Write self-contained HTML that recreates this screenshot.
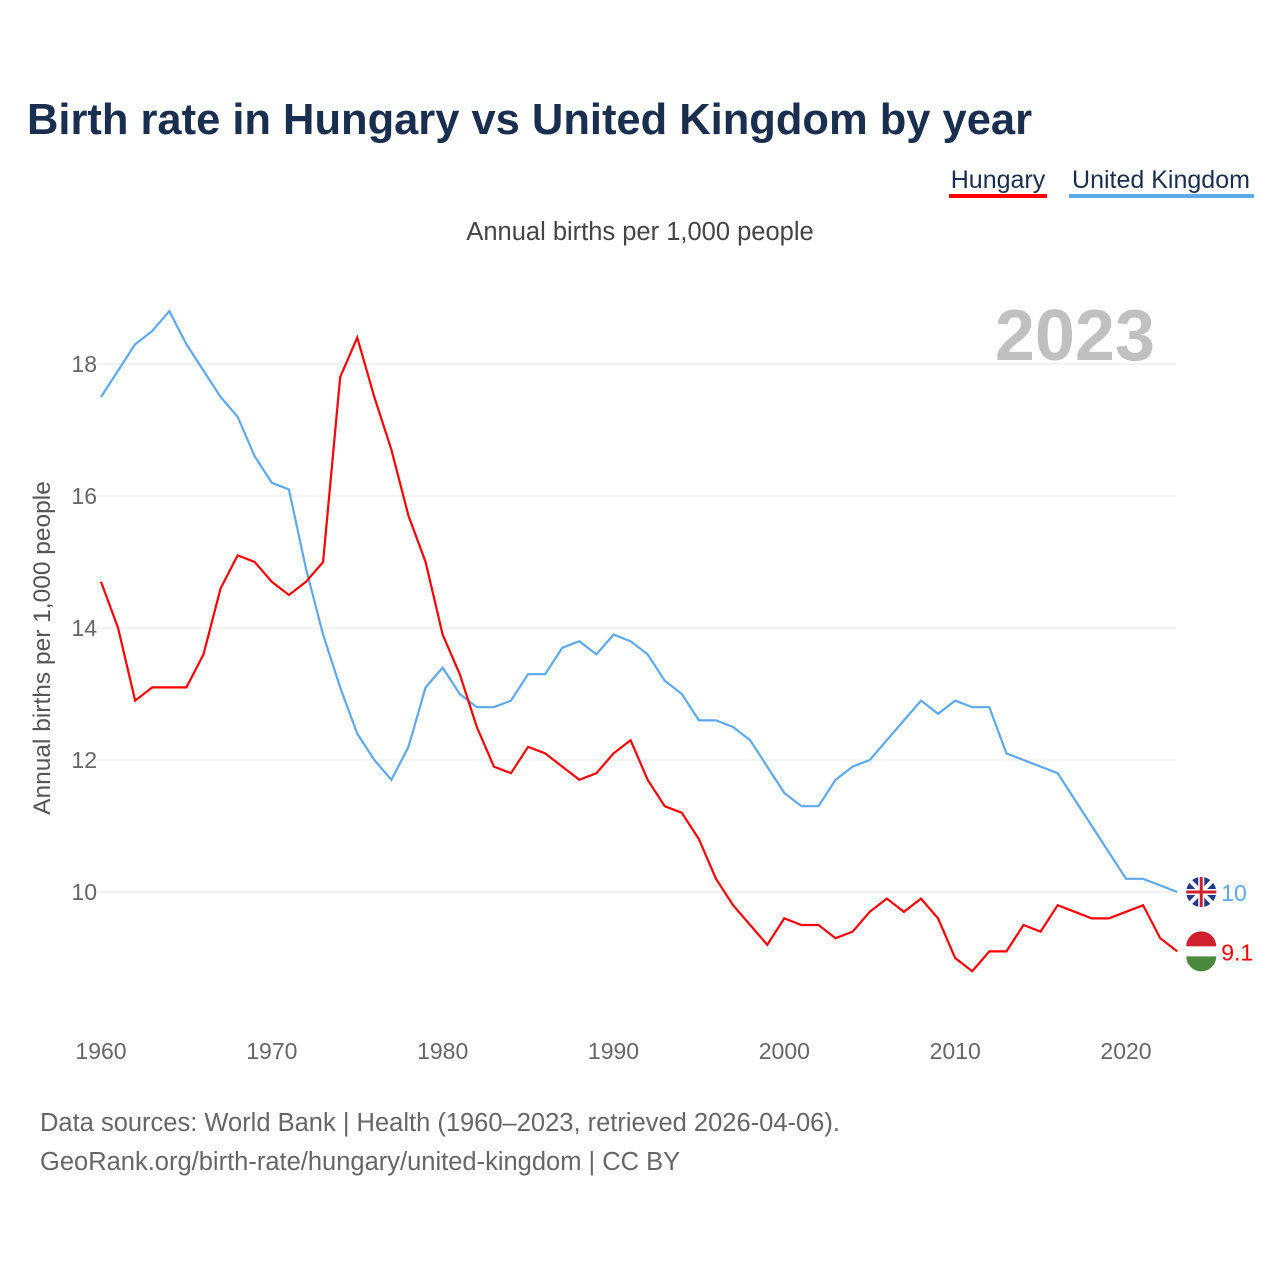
<!DOCTYPE html>
<html><head><meta charset="utf-8"><style>
body{margin:0;background:#fff;font-family:"Liberation Sans",sans-serif}
svg text{font-family:"Liberation Sans",sans-serif}
</style></head><body>
<svg width="1280" height="1280" viewBox="0 0 1280 1280">
<text x="27" y="134" font-size="43.5" font-weight="bold" fill="#1a2e4f" textLength="1005">Birth rate in Hungary vs United Kingdom by year</text>
<g><text x="998" y="188" font-size="25" fill="#1a2e4f" text-anchor="middle">Hungary</text><rect x="949" y="194" width="98" height="4" fill="#ff0000"/></g>
<g><text x="1161" y="188" font-size="25" fill="#1a2e4f" text-anchor="middle">United Kingdom</text><rect x="1069" y="194" width="185" height="4" fill="#5fa8ea"/></g>
<text x="640" y="240" font-size="25.5" fill="#444" text-anchor="middle">Annual births per 1,000 people</text>
<text x="1155" y="360" font-size="72" font-weight="bold" fill="#c0c0c0" text-anchor="end">2023</text>
<text transform="translate(50,648) rotate(-90)" font-size="24.5" fill="#555" text-anchor="middle">Annual births per 1,000 people</text>
<g id="grid"></g><g id="xt"></g><g id="lines"></g><g id="ends"></g>
<text x="40" y="1131" font-size="25.5" fill="#666">Data sources: World Bank | Health (1960–2023, retrieved 2026-04-06).</text>
<text x="40" y="1170" font-size="25.5" fill="#666">GeoRank.org/birth-rate/hungary/united-kingdom | CC BY</text>
</svg>
<script>
const years=[];for(let y=1960;y<=2023;y++)years.push(y);
const hungary=[14.7,14.0,12.9,13.1,13.1,13.1,13.6,14.6,15.1,15.0,14.7,14.5,14.7,15.0,17.8,18.4,17.5,16.7,15.7,15.0,13.9,13.3,12.5,11.9,11.8,12.2,12.1,11.9,11.7,11.8,12.1,12.3,11.7,11.3,11.2,10.8,10.2,9.8,9.5,9.2,9.6,9.5,9.5,9.3,9.4,9.7,9.9,9.7,9.9,9.6,9.0,8.8,9.1,9.1,9.5,9.4,9.8,9.7,9.6,9.6,9.7,9.8,9.3,9.1];
const uk=[17.5,17.9,18.3,18.5,18.8,18.3,17.9,17.5,17.2,16.6,16.2,16.1,14.9,13.9,13.1,12.4,12.0,11.7,12.2,13.1,13.4,13.0,12.8,12.8,12.9,13.3,13.3,13.7,13.8,13.6,13.9,13.8,13.6,13.2,13.0,12.6,12.6,12.5,12.3,11.9,11.5,11.3,11.3,11.7,11.9,12.0,12.3,12.6,12.9,12.7,12.9,12.8,12.8,12.1,12.0,11.9,11.8,11.4,11.0,10.6,10.2,10.2,10.1,10.0];
const yTicks=[10,12,14,16,18];
const xTicks=[1960,1970,1980,1990,2000,2010,2020];
const NS="http://www.w3.org/2000/svg";
const X=y=>101+(y-1960)*1025/60, Y=v=>892-(v-10)*66;
function mk(t,a,p){const e=document.createElementNS(NS,t);for(const k in a)e.setAttribute(k,a[k]);p.appendChild(e);return e;}
const g=document.getElementById('grid');
yTicks.forEach(v=>{
 const l=mk('line',{x1:95,x2:1176,y1:Y(v),y2:Y(v),stroke:'#e6e6e6','stroke-width':1},g);
 
 
 const t=mk('text',{x:97,y:Y(v)+8,'font-size':23,fill:'#666','text-anchor':'end'},g);t.textContent=v;
 
 
});
const xt=document.getElementById('xt');
xTicks.forEach(v=>{const t=mk('text',{x:X(v),y:1059,'font-size':23,fill:'#666','text-anchor':'middle'},xt);t.textContent=v;
 
 });
const L=document.getElementById('lines');
[[uk,'#5fa8ea','uk-line'],[hungary,'#ff0000','hungary-line']].forEach(([d,c,n])=>{
 const p=mk('polyline',{points:d.map((v,i)=>X(years[i])+','+Y(v)).join(' '),fill:'none',stroke:c,'stroke-width':2.2},L);
 
 
});
const E=document.getElementById('ends');
const ly=years[years.length-1];
[[uk,'#5fa8ea','uk-end-label'],[hungary,'#ff0000','hungary-end-label']].forEach(([d,c,n],k)=>{
 const v=d[d.length-1],cx=X(ly)+24,cy=Y(v);
 const cg=mk('g',{},E);
 if(k==0){mk('circle',{cx,cy,r:15,fill:'#1e3a8a'},cg);
  mk('path',{d:`M${cx-11} ${cy-11}L${cx+11} ${cy+11}M${cx+11} ${cy-11}L${cx-11} ${cy+11}`,stroke:'#fff','stroke-width':4},cg);
  mk('path',{d:`M${cx-15} ${cy}H${cx+15}M${cx} ${cy-15}V${cy+15}`,stroke:'#fff','stroke-width':6},cg);
  mk('path',{d:`M${cx-15} ${cy}H${cx+15}M${cx} ${cy-15}V${cy+15}`,stroke:'#d0202e','stroke-width':3},cg);}
 else{mk('path',{d:`M${cx-15} ${cy-5}A15 15 0 0 1 ${cx+15} ${cy-5}Z`,fill:'#d0202e'},cg);
  mk('rect',{x:cx-15,y:cy-5,width:30,height:10,fill:'#fff'},cg);
  mk('path',{d:`M${cx-15} ${cy+5}A15 15 0 0 0 ${cx+15} ${cy+5}Z`,fill:'#4b8a3e'},cg);}
 
 
 const t=mk('text',{x:cx+20,y:cy+9,'font-size':23,fill:c},E);t.textContent=v;
 
 
});
</script>
</body></html>
